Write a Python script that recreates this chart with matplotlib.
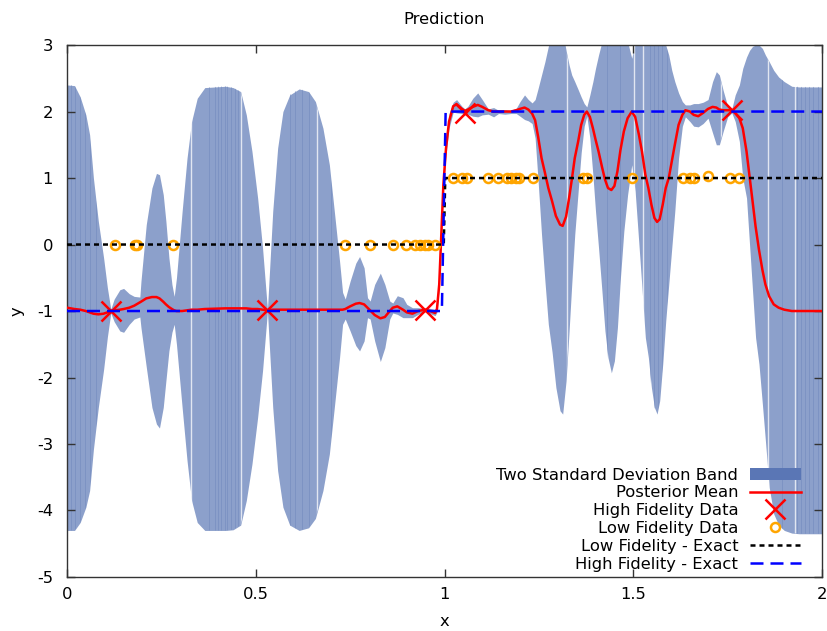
import numpy as np
import matplotlib
matplotlib.use('Agg')
import matplotlib.pyplot as plt
from matplotlib.patches import Patch
from matplotlib.lines import Line2D

plt.rcParams['font.family'] = ['DejaVu Sans']
plt.rcParams['font.size'] = 11.8
plt.rcParams['axes.unicode_minus'] = False

# --- posterior: x, mean, mean+2sd, mean-2sd ---
x_post = [0.000, 0.020, 0.035, 0.050, 0.060, 0.070, 0.083, 0.097, 0.107, 0.116,
          0.125, 0.140, 0.150, 0.165, 0.178, 0.193, 0.196, 0.210, 0.225, 0.237,
          0.245, 0.255, 0.262, 0.270, 0.278, 0.284, 0.290, 0.305, 0.318, 0.330,
          0.345, 0.365, 0.420, 0.440, 0.460, 0.475, 0.490, 0.505, 0.518, 0.531,
          0.545, 0.558, 0.572, 0.590, 0.615, 0.640, 0.658, 0.678, 0.695, 0.710,
          0.722, 0.730, 0.737, 0.750, 0.765, 0.775, 0.787, 0.796, 0.803, 0.815,
          0.830, 0.842, 0.855, 0.863, 0.875, 0.890, 0.900, 0.915, 0.930, 0.948,
          0.962, 0.975, 0.980, 0.986, 0.992, 0.997, 1.004, 1.012, 1.023, 1.032,
          1.046, 1.054, 1.062, 1.075, 1.088, 1.100, 1.116, 1.130, 1.143, 1.160,
          1.176, 1.190, 1.200, 1.212, 1.222, 1.232, 1.240, 1.248, 1.257, 1.266,
          1.275, 1.285, 1.295, 1.306, 1.313, 1.322, 1.330, 1.337, 1.345, 1.354,
          1.362, 1.370, 1.377, 1.385, 1.393, 1.400, 1.408, 1.417, 1.425, 1.433,
          1.442, 1.450, 1.458, 1.466, 1.475, 1.485, 1.496, 1.505, 1.515, 1.523,
          1.532, 1.540, 1.548, 1.556, 1.563, 1.570, 1.578, 1.586, 1.594, 1.602,
          1.610, 1.620, 1.630, 1.638, 1.650, 1.660, 1.672, 1.685, 1.698, 1.710,
          1.720, 1.728, 1.738, 1.750, 1.761, 1.770, 1.781, 1.790, 1.800, 1.808,
          1.816, 1.824, 1.833, 1.842, 1.850, 1.860, 1.872, 1.885, 1.900, 1.920,
          1.940, 2.000]
mean = [-0.95, -0.97, -0.98, -1.00, -1.02, -1.04, -1.05, -1.04, -1.02, -1.00,
        -0.99, -0.98, -0.97, -0.95, -0.92, -0.87, -0.86, -0.81, -0.79, -0.79,
        -0.81, -0.86, -0.90, -0.94, -0.97, -0.99, -1.00, -1.00, -0.99, -0.98,
        -0.98, -0.97, -0.96, -0.96, -0.96, -0.96, -0.97, -0.97, -0.98, -0.99,
        -0.98, -0.98, -0.98, -0.98, -0.98, -0.98, -0.98, -0.98, -0.98, -0.98,
        -0.98, -0.98, -0.97, -0.93, -0.89, -0.88, -0.90, -0.95, -0.99, -1.06,
        -1.11, -1.09, -1.00, -0.95, -0.93, -0.98, -1.02, -1.04, -1.00, -0.98,
        -1.00, -1.03, -0.97, -0.60, 0.20, 0.90, 1.45, 1.85, 2.08, 2.11,
        2.04, 2.01, 2.03, 2.07, 2.10, 2.07, 2.02, 2.00, 2.00, 2.00,
        2.00, 2.02, 2.04, 2.06, 2.03, 1.97, 1.87, 1.62, 1.30, 1.08,
        0.85, 0.65, 0.43, 0.30, 0.28, 0.42, 0.70, 0.97, 1.30, 1.55,
        1.80, 1.95, 2.00, 1.92, 1.75, 1.58, 1.40, 1.17, 0.98, 0.85,
        0.82, 0.88, 1.10, 1.42, 1.70, 1.90, 2.00, 1.92, 1.65, 1.40,
        1.05, 0.85, 0.60, 0.40, 0.34, 0.38, 0.60, 0.85, 1.00, 1.25,
        1.50, 1.80, 1.95, 2.02, 2.00, 1.95, 1.93, 1.98, 2.04, 2.07,
        2.06, 2.03, 2.02, 2.02, 2.02, 1.98, 1.90, 1.75, 1.40, 1.03,
        0.65, 0.27, -0.08, -0.38, -0.60, -0.78, -0.90, -0.95, -0.98, -1.00,
        -1.00, -1.00]
upper = [2.40, 2.39, 2.22, 1.95, 1.65, 1.00, 0.35, -0.20, -0.65, -0.97,
         -0.82, -0.68, -0.66, -0.74, -0.78, -0.79, -0.55, 0.30, 0.85, 1.07,
         1.05, 0.75, 0.35, -0.20, -0.60, -0.78, -0.50, 0.50, 1.30, 1.85,
         2.20, 2.36, 2.38, 2.36, 2.30, 1.95, 1.40, 0.70, -0.05, -0.98,
         0.50, 1.45, 2.00, 2.25, 2.34, 2.30, 2.15, 1.75, 1.20, 0.40,
         -0.25, -0.72, -0.82, -0.55, -0.28, -0.18, -0.35, -0.80, -0.85, -0.60,
         -0.43, -0.60, -0.85, -0.88, -0.77, -0.80, -0.90, -0.95, -0.95, -0.96,
         -0.96, -0.98, -0.92, -0.55, 0.25, 0.97, 1.55, 1.97, 2.14, 2.18,
         2.08, 2.04, 2.08, 2.20, 2.28, 2.18, 2.04, 2.06, 2.02, 2.03,
         2.02, 2.05, 2.15, 2.25, 2.18, 2.13, 2.18, 2.35, 2.55, 2.75,
         2.98, 3.25, 3.60, 3.50, 3.20, 2.92, 2.70, 2.55, 2.45, 2.33,
         2.22, 2.12, 2.07, 2.25, 2.45, 2.65, 2.85, 3.05, 3.30, 3.50,
         3.60, 3.50, 3.40, 3.30, 3.20, 3.05, 2.80, 3.05, 3.30, 3.45,
         3.50, 3.40, 3.35, 3.30, 3.20, 3.10, 3.05, 3.00, 2.85, 2.62,
         2.45, 2.28, 2.15, 2.10, 2.10, 2.12, 2.12, 2.14, 2.18, 2.45,
         2.60, 2.55, 2.32, 2.08, 2.04, 2.25, 2.40, 2.65, 2.82, 2.92,
         2.98, 3.00, 3.00, 2.95, 2.85, 2.75, 2.62, 2.52, 2.45, 2.38,
         2.37, 2.37]
lower = [-4.30, -4.30, -4.18, -3.95, -3.70, -3.08, -2.45, -1.88, -1.39, -1.03,
         -1.16, -1.30, -1.32, -1.20, -1.12, -1.09, -1.25, -1.84, -2.45, -2.70,
         -2.76, -2.45, -2.05, -1.60, -1.32, -1.20, -1.50, -2.45, -3.25, -3.85,
         -4.18, -4.30, -4.30, -4.29, -4.22, -3.85, -3.30, -2.60, -1.90, -1.00,
         -2.45, -3.40, -3.95, -4.22, -4.30, -4.26, -4.12, -3.70, -3.15, -2.35,
         -1.70, -1.20, -1.12, -1.30, -1.52, -1.60, -1.45, -1.10, -1.12, -1.45,
         -1.76, -1.55, -1.12, -1.03, -1.05, -1.10, -1.10, -1.10, -1.05, -1.00,
         -1.04, -1.07, -1.02, -0.65, 0.15, 0.83, 1.35, 1.75, 1.99, 1.98,
         1.97, 1.97, 1.96, 1.93, 1.92, 1.95, 1.96, 1.92, 1.97, 1.96,
         1.97, 1.97, 1.93, 1.88, 1.86, 1.82, 1.60, 0.95, 0.15, -0.55,
         -1.20, -1.62, -2.15, -2.50, -2.55, -2.05, -1.30, -0.60, 0.15, 0.80,
         1.38, 1.78, 1.93, 1.60, 1.05, 0.50, -0.05, -0.70, -1.30, -1.70,
         -1.93, -1.75, -1.25, -0.50, 0.20, 0.75, 1.20, 0.80, 0.00, -0.65,
         -1.40, -1.70, -2.15, -2.45, -2.55, -2.35, -1.80, -1.15, -0.60, -0.05,
         0.50, 1.30, 1.78, 1.92, 1.85, 1.78, 1.77, 1.82, 1.90, 1.68,
         1.50, 1.50, 1.70, 1.92, 1.98, 1.85, 1.55, 1.00, 0.70, 0.00,
         -0.70, -1.40, -1.80, -2.40, -2.95, -3.65, -4.05, -4.22, -4.30, -4.34,
         -4.35, -4.35]

# --- data points ---
hf_x = [0.116, 0.531, 0.948, 1.054, 1.761]
hf_y = [-1.00, -0.99, -0.98, 1.98, 2.02]
lf_x = [0.127, 0.181, 0.185, 0.281, 0.736, 0.803, 0.863, 0.898, 0.922, 0.935,
        0.949, 0.956, 0.975, 1.023, 1.046, 1.059, 1.116, 1.143, 1.165, 1.176,
        1.189, 1.197, 1.235, 1.368, 1.377, 1.496, 1.633, 1.650, 1.661, 1.699,
        1.756, 1.781]
lf_y = [0, 0, 0, 0, 0, 0, 0, 0, 0, 0,
        0, 0, 0, 1, 1, 1, 1, 1, 1, 1,
        1, 1, 1, 1, 1, 1, 1, 1, 1, 1.03,
        1, 1]

# --- exact functions ---
lf_exact_x = [0.0, 0.998, 1.002, 2.0]
lf_exact_y = [0.0, 0.0, 1.0, 1.0]
hf_exact_x = [0.0, 0.993, 1.003, 2.0]
hf_exact_y = [-1.0, -1.0, 2.0, 2.0]

# rendering texture of the filled band: light seams and darker stripes
seam_x = [0.329, 0.461, 0.661, 1.324, 1.502, 1.527, 1.732, 1.856, 1.928]
stripe_x = [0.010, 0.022, 0.035, 0.048, 0.062, 0.078, 0.375, 0.392, 0.400,
            0.408, 0.418, 0.425, 0.435, 0.445, 0.452, 0.590, 0.605, 0.622,
            0.640, 0.700, 1.430, 1.465, 1.545, 1.555, 1.565, 1.575, 1.590,
            1.895, 1.935, 1.945, 1.955, 1.965, 1.975, 1.988]

band_color = '#8CA0CB'

fig = plt.figure(figsize=(8.27, 6.31), dpi=100)
ax = fig.add_axes([0.081, 0.0856, 0.913, 0.843])

band = ax.fill_between(x_post, lower, upper, color=band_color, lw=0, zorder=1)
clip_path = band.get_paths()[0]
st = ax.vlines(stripe_x, -5, 3, color='#6F87BC', lw=0.7, alpha=0.5, zorder=1.4)
st.set_clip_path(clip_path, band.get_transform())
sl = ax.vlines(seam_x, -5, 3, color='white', lw=1.0, alpha=0.75, zorder=1.5)
sl.set_clip_path(clip_path, band.get_transform())

ax.plot(x_post, mean, color='red', lw=1.8, zorder=3)
ax.plot(hf_x, hf_y, ls='none', marker='x', ms=14, mew=1.8, color='red', zorder=4)
ax.plot(lf_x, lf_y, ls='none', marker='o', ms=6.5, mew=1.8, mfc='none',
        mec='orange', zorder=4)
ax.plot(lf_exact_x, lf_exact_y, color='black', lw=1.8, dashes=(2.0, 1.6), zorder=5)
ax.plot(hf_exact_x, hf_exact_y, color='blue', lw=1.8, dashes=(5.2, 2.8), zorder=6)

ax.set_xlim(0, 2)
ax.set_ylim(-5, 3)
ax.set_xticks([0, 0.5, 1, 1.5, 2])
ax.set_xticklabels(['0', '0.5', '1', '1.5', '2'])
ax.set_yticks(range(-5, 4))
ax.tick_params(direction='in', length=6, width=1, top=True, right=True,
               labelsize=11.8, color='#333333')
ax.tick_params(axis='x', pad=7)
ax.tick_params(axis='y', pad=10)
for s in ax.spines.values():
    s.set_linewidth(1.0)
    s.set_color('#333333')

ax.set_title('Prediction', fontsize=11.8, pad=15)
ax.set_xlabel('x', fontsize=11.8, labelpad=9)
ax.set_ylabel('y', fontsize=11.8, labelpad=9)

handles = [
    Patch(facecolor='#5A76B5', edgecolor='none'),
    Line2D([], [], color='red', lw=1.8),
    Line2D([], [], ls='none', marker='x', ms=14, mew=1.8, color='red'),
    Line2D([], [], ls='none', marker='o', ms=6.5, mew=1.8, mfc='none', mec='orange'),
    Line2D([], [], color='black', lw=1.8, dashes=(2.0, 1.6)),
    Line2D([], [], color='blue', lw=1.8, dashes=(5.2, 2.8)),
]
labels = ['Two Standard Deviation Band', 'Posterior Mean', 'High Fidelity Data',
          'Low Fidelity Data', 'Low Fidelity - Exact', 'High Fidelity - Exact']
ax.legend(handles, labels, loc='lower right', bbox_to_anchor=(0.976, 0.004),
          frameon=False, markerfirst=False, handlelength=3.1, handletextpad=0.7,
          labelspacing=0.17, borderpad=0.2, borderaxespad=0, fontsize=11.8)

fig.savefig('out.png', dpi=100)
